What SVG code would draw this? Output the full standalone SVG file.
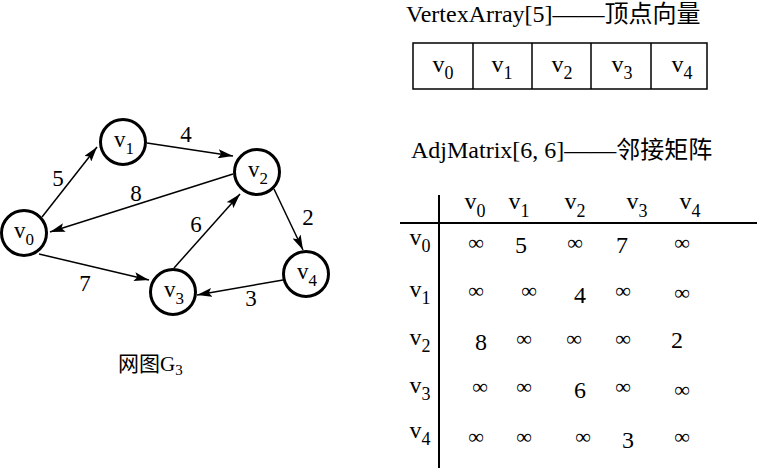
<svg xmlns="http://www.w3.org/2000/svg" width="757" height="468" viewBox="0 0 757 468">
<style>
text{font-family:"Liberation Serif","Noto Sans CJK SC",serif;fill:#000}
.node circle{fill:#fff;stroke:#000;stroke-width:3}
.nl{font-size:23px}
.sub{font-size:17px}
.w{font-size:23px;text-anchor:middle}
.edge{stroke:#000;stroke-width:1.5;fill:none;marker-end:url(#ah)}
.title{font-size:24px}
.cell{font-size:24px;text-anchor:middle}
.csub{font-size:18px}
.inf{font-size:22px;text-anchor:middle}
.num{font-size:24px;text-anchor:middle}
.grid{stroke:#000;stroke-width:1.5;fill:none}
</style>
<defs>
<marker id="ah" markerUnits="userSpaceOnUse" markerWidth="16" markerHeight="9" refX="15" refY="4.5" orient="auto">
<path d="M0,0 L15,4.5 L0,9 L3,4.5 z" fill="#000"/>
</marker>
</defs>
<rect width="757" height="468" fill="#fff"/>
<g id="connectors">
<line class="edge" x1="42" y1="217" x2="97" y2="147"/>
<line class="edge" x1="147" y1="143" x2="233" y2="156"/>
<line class="edge" x1="233" y1="174" x2="50" y2="232"/>
<line class="edge" x1="174" y1="268" x2="240" y2="194"/>
<line class="edge" x1="274" y1="189" x2="303" y2="250"/>
<line class="edge" x1="39" y1="254" x2="149" y2="280"/>
<line class="edge" x1="283" y1="280" x2="197" y2="295"/>
</g>
<g id="weights">
<text class="w" x="58" y="186">5</text>
<text class="w" x="186" y="142">4</text>
<text class="w" x="136" y="201">8</text>
<text class="w" x="196" y="232">6</text>
<text class="w" x="308" y="225">2</text>
<text class="w" x="85" y="291">7</text>
<text class="w" x="251" y="306">3</text>
</g>
<g id="v0" class="node"><circle cx="24" cy="233" r="22.5"/><text class="nl" x="14" y="238">v<tspan class="sub" dy="7">0</tspan></text></g>
<g id="v1" class="node"><circle cx="123" cy="142" r="22.5"/><text class="nl" x="114" y="147">v<tspan class="sub" dy="7">1</tspan></text></g>
<g id="v2" class="node"><circle cx="257" cy="172" r="22.5"/><text class="nl" x="248" y="177">v<tspan class="sub" dy="7">2</tspan></text></g>
<g id="v3" class="node"><circle cx="173" cy="292" r="22.5"/><text class="nl" x="164" y="297">v<tspan class="sub" dy="7">3</tspan></text></g>
<g id="v4" class="node"><circle cx="306" cy="274" r="22.5"/><text class="nl" x="297" y="279">v<tspan class="sub" dy="7">4</tspan></text></g>
<text x="118" y="371" style="font-size:21px">网图G<tspan style="font-size:15px" dy="4">3</tspan></text>

<g id="vertex-array">
<text class="title" x="406" y="22">VertexArray[5]<tspan textLength="52" lengthAdjust="spacingAndGlyphs">——</tspan>顶点向量</text>
<rect class="grid" x="413" y="43" width="294" height="46"/>
<line class="grid" x1="473" y1="43" x2="473" y2="89"/>
<line class="grid" x1="532" y1="43" x2="532" y2="89"/>
<line class="grid" x1="591" y1="43" x2="591" y2="89"/>
<line class="grid" x1="651" y1="43" x2="651" y2="89"/>
<text class="cell" x="443" y="72">v<tspan class="csub" dy="7">0</tspan></text>
<text class="cell" x="502" y="72">v<tspan class="csub" dy="7">1</tspan></text>
<text class="cell" x="562" y="72">v<tspan class="csub" dy="7">2</tspan></text>
<text class="cell" x="622" y="72">v<tspan class="csub" dy="7">3</tspan></text>
<text class="cell" x="682" y="72">v<tspan class="csub" dy="7">4</tspan></text>
</g>

<g id="adj-matrix">
<text class="title" x="411" y="158">AdjMatrix[6, 6]<tspan textLength="52" lengthAdjust="spacingAndGlyphs">——</tspan>邻接矩阵</text>
<line x1="439" y1="195" x2="439" y2="468" stroke="#000" stroke-width="2"/>
<line x1="400" y1="223" x2="757" y2="223" stroke="#000" stroke-width="2"/>
<text class="cell" x="475" y="209">v<tspan class="csub" dy="8">0</tspan></text>
<text class="cell" x="519" y="209">v<tspan class="csub" dy="8">1</tspan></text>
<text class="cell" x="575" y="209">v<tspan class="csub" dy="8">2</tspan></text>
<text class="cell" x="637" y="209">v<tspan class="csub" dy="8">3</tspan></text>
<text class="cell" x="690" y="209">v<tspan class="csub" dy="8">4</tspan></text>
<text class="cell" x="420" y="245">v<tspan class="csub" dy="7">0</tspan></text>
<text class="cell" x="420" y="297">v<tspan class="csub" dy="7">1</tspan></text>
<text class="cell" x="420" y="345">v<tspan class="csub" dy="7">2</tspan></text>
<text class="cell" x="420" y="393">v<tspan class="csub" dy="7">3</tspan></text>
<text class="cell" x="420" y="438">v<tspan class="csub" dy="7">4</tspan></text>

<text class="inf" x="476" y="250">∞</text>
<text class="num" x="521" y="253">5</text>
<text class="inf" x="575" y="250">∞</text>
<text class="num" x="622" y="253">7</text>
<text class="inf" x="682" y="250">∞</text>

<text class="inf" x="476" y="298">∞</text>
<text class="inf" x="529" y="298">∞</text>
<text class="num" x="580" y="303">4</text>
<text class="inf" x="623" y="298">∞</text>
<text class="inf" x="682" y="300">∞</text>

<text class="num" x="481" y="350">8</text>
<text class="inf" x="524" y="346">∞</text>
<text class="inf" x="574" y="346">∞</text>
<text class="inf" x="623" y="346">∞</text>
<text class="num" x="677" y="348">2</text>

<text class="inf" x="480" y="394">∞</text>
<text class="inf" x="524" y="394">∞</text>
<text class="num" x="580" y="398">6</text>
<text class="inf" x="623" y="394">∞</text>
<text class="inf" x="682" y="397">∞</text>

<text class="inf" x="476" y="444">∞</text>
<text class="inf" x="524" y="444">∞</text>
<text class="inf" x="583" y="444">∞</text>
<text class="num" x="628" y="448">3</text>
<text class="inf" x="682" y="444">∞</text>
</g>
</svg>
